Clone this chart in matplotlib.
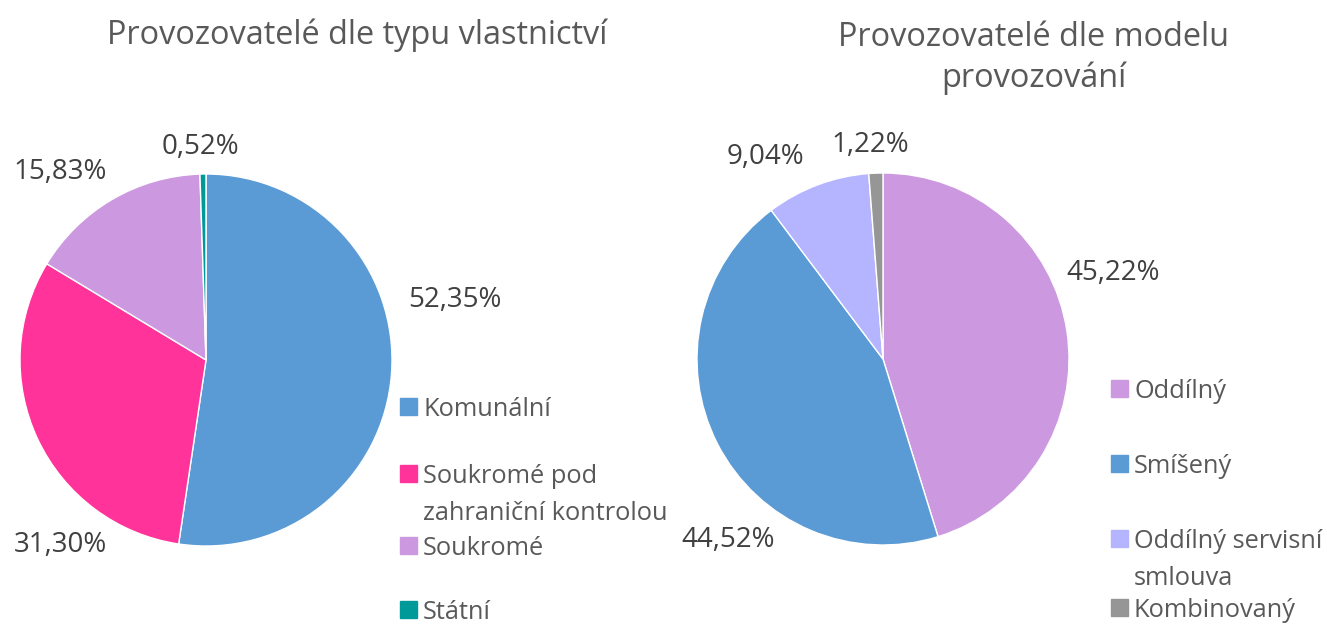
import matplotlib
matplotlib.use("Agg")
import matplotlib.pyplot as plt
from matplotlib.patches import Rectangle

plt.rcParams['font.family'] = ['Open Sans', 'DejaVu Sans']

# ---- data ----
title_left = "Provozovatelé dle typu vlastnictví"
cats_left = ["Komunální", "Soukromé pod\nzahraniční kontrolou", "Soukromé", "Státní"]
vals_left = [52.35, 31.30, 15.83, 0.52]
colors_left = ["#5B9BD5", "#FF3399", "#CC99E0", "#009999"]

title_right = "Provozovatelé dle modelu\nprovozování"
cats_right = ["Oddílný", "Smíšený", "Oddílný servisní\nsmlouva", "Kombinovaný"]
vals_right = [45.22, 44.52, 9.04, 1.22]
colors_right = ["#CC99E0", "#5B9BD5", "#B4B4FF", "#969696"]

# ---- layout (pixels in 1327x625 figure) ----
W, H = 1327, 625
fig = plt.figure(figsize=(W / 100, H / 100), dpi=100)

def fx(x):
    return x / W

def fy(y):
    return 1 - y / H

def fmt(v):
    return f"{v:.2f}%".replace(".", ",")

def draw_pie(cx, cy, r, vals, colors, label_pos):
    ax = fig.add_axes([fx(cx - r), fy(cy + r), 2 * r / W, 2 * r / H])
    ax.pie(vals, colors=colors, startangle=90, counterclock=False,
           radius=1, wedgeprops=dict(edgecolor="white", linewidth=1))
    ax.set_xlim(-1, 1)
    ax.set_ylim(-1, 1)
    ax.set_aspect("equal")
    ax.axis("off")
    for v, (px, py) in zip(vals, label_pos):
        fig.text(fx(px), fy(py), fmt(v), ha="center", va="center",
                 fontsize=20, color="#404040")
    return ax

def draw_legend(x, ys, cats, colors):
    sq = 17
    for cat, col, y in zip(cats, colors, ys):
        fig.patches.append(Rectangle((fx(x), fy(y + sq / 2)), sq / W, sq / H,
                                     transform=fig.transFigure, color=col))
        fig.text(fx(x + 23), fy(y - 9), cat, ha="left", va="top", fontsize=18.3,
                 color="#595959", linespacing=1.62)

# left chart
draw_pie(206, 360, 186, vals_left, colors_left,
         [(455, 300), (60, 545), (60, 172), (200, 147)])
fig.text(fx(357), fy(35), title_left, ha="center", va="center",
         fontsize=23.4, color="#595959")
draw_legend(400, [406, 473, 545, 609], cats_left, colors_left)

# right chart
draw_pie(883, 359, 186, vals_right, colors_right,
         [(1113, 273), (728, 540), (765, 157), (870, 145)])
fig.text(fx(1034), fy(58), title_right, ha="center", va="center",
         fontsize=23.4, color="#595959", linespacing=1.3)
draw_legend(1111, [388, 463, 538, 607], cats_right, colors_right)

fig.savefig("out.png", dpi=100)
